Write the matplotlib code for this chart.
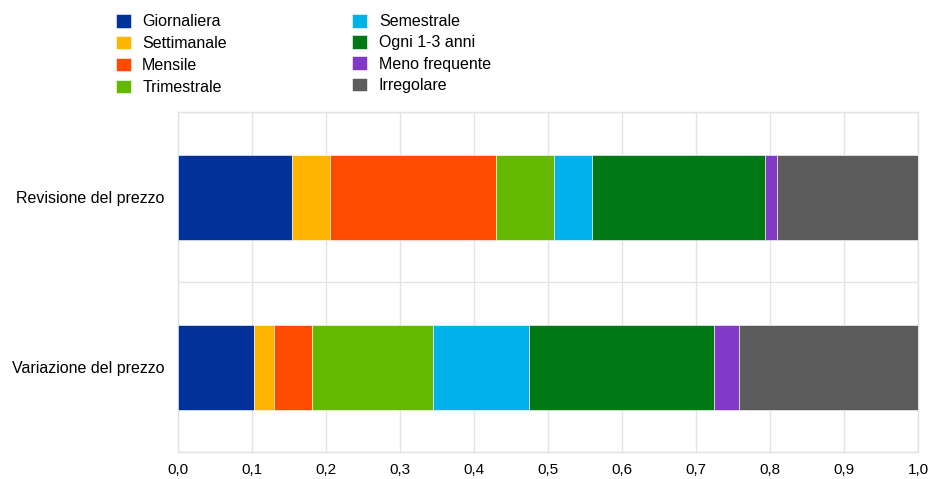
import numpy as np
import matplotlib
matplotlib.use('Agg')
from matplotlib import pyplot as plt

plt.rcParams['font.family'] = ['Liberation Sans', 'DejaVu Sans']

categorie = ['Revisione del prezzo', 'Variazione del prezzo']
serie = ['Giornaliera', 'Settimanale', 'Mensile', 'Trimestrale',
         'Semestrale', 'Ogni 1-3 anni', 'Meno frequente', 'Irregolare']
colori = ['#003299', '#FFB400', '#FF4B00', '#65B800',
          '#00B1EA', '#007816', '#8139C6', '#5C5C5C']

# quote per categoria (revisione, variazione)
giornaliera = [0.154, 0.103]
settimanale = [0.052, 0.027]
mensile = [0.224, 0.051]
trimestrale = [0.078, 0.164]
semestrale = [0.052, 0.129]
ogni_1_3 = [0.233, 0.250]
meno_freq = [0.017, 0.034]
irregolare = [0.190, 0.242]
valori = [giornaliera, settimanale, mensile, trimestrale,
          semestrale, ogni_1_3, meno_freq, irregolare]

xticks = np.arange(0, 1.01, 0.1)
xlabels = ['%.1f' % v for v in xticks]
xlabels = [s.replace('.', ',') for s in xlabels]

fig = plt.figure(figsize=(9.3, 4.79), dpi=100)
ax = fig.add_axes([178/930, 27/479, 740/930, 340/479])

y = np.arange(len(categorie))
left = np.zeros(len(categorie))
handles = []
for nome, col, v in zip(serie, colori, valori):
    b = ax.barh(y, v, left=left, height=0.5, color=col,
                edgecolor='white', linewidth=0.4, label=nome, zorder=3)
    handles.append(b)
    left = left + np.array(v)

ax.set_xlim(0, 1)
ax.set_ylim(1.5, -0.5)
ax.set_yticks(y)
ax.set_yticklabels(categorie, fontsize=11.5)
ax.set_xticks(xticks)
ax.set_xticklabels(xlabels, fontsize=11,
                   family=['Liberation Sans Narrow', 'Liberation Sans'])
ax.set_yticks([-0.5, 0.5, 1.5], minor=True)
ax.tick_params(axis='both', which='both', length=0)
ax.tick_params(axis='y', pad=10)
ax.tick_params(axis='x', pad=8)
ax.grid(axis='x', color='#E3E3E3', linewidth=1, zorder=0)
ax.grid(axis='y', which='minor', color='#E3E3E3', linewidth=1, zorder=0)
for s in ax.spines.values():
    s.set_color('#E3E3E3')
    s.set_linewidth(1)

leg1 = fig.legend(handles[:4], serie[:4], loc='upper left',
                  bbox_to_anchor=(103/930, 1 - 1/479), frameon=False,
                  fontsize=11.5, handlelength=0.95, handleheight=0.95,
                  handletextpad=0.7, labelspacing=0.41, borderpad=0.3)
leg2 = fig.legend(handles[4:], serie[4:], loc='upper left',
                  bbox_to_anchor=(339/930, 1 - 1/479), frameon=False,
                  fontsize=11.5, handlelength=0.95, handleheight=0.95,
                  handletextpad=0.75, labelspacing=0.37, borderpad=0.3)

fig.savefig('out.png', dpi=100)
